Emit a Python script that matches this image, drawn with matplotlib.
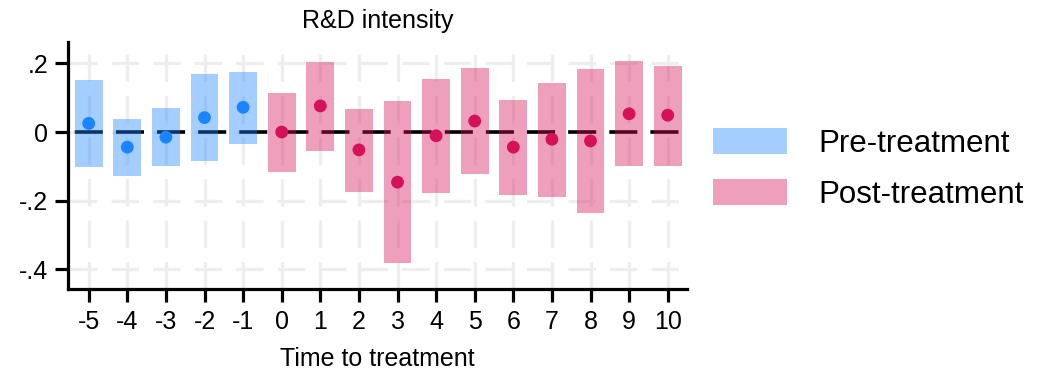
import matplotlib
matplotlib.use("Agg")
import matplotlib.pyplot as plt
from matplotlib.patches import Patch

# event-study estimates
times = [-5, -4, -3, -2, -1, 0, 1, 2, 3, 4, 5, 6, 7, 8, 9, 10]
coef = [0.025, -0.044, -0.015, 0.042, 0.072, 0.0, 0.076, -0.052,
        -0.146, -0.011, 0.032, -0.044, -0.021, -0.026, 0.053, 0.049]
ci_low = [-0.101, -0.127, -0.098, -0.083, -0.034, -0.115, -0.054, -0.174,
          -0.380, -0.177, -0.121, -0.182, -0.188, -0.235, -0.098, -0.098]
ci_high = [0.151, 0.037, 0.070, 0.169, 0.175, 0.114, 0.203, 0.067,
           0.090, 0.154, 0.186, 0.093, 0.143, 0.183, 0.207, 0.192]

yticks = [0.2, 0.0, -0.2, -0.4]
ytick_labels = [".2", "0", "-.2", "-.4"]

pre_color = "#1A85FF"
post_color = "#D41159"

plt.rcParams["font.family"] = ["Liberation Sans", "DejaVu Sans"]
plt.rcParams["lines.scale_dashes"] = False

fig = plt.figure(figsize=(10.55, 3.74), dpi=100)
ax = fig.add_axes([0.0647, 0.2281, 0.5865, 0.6596])

colors = [pre_color if t < 0 else post_color for t in times]
heights = [h - l for h, l in zip(ci_high, ci_low)]

ax.bar(times, heights, bottom=ci_low, width=0.72, color=colors,
       alpha=0.4, linewidth=0, zorder=3)
ax.axhline(0, color="black", lw=2.6, linestyle=(24.7, (20.2, 9.4)), zorder=2)
ax.scatter(times, coef, s=85, c=colors, linewidths=0, zorder=4)

ax.set_xlim(-5.53, 10.5)
ax.set_ylim(-0.456, 0.262)
ax.set_xticks(times)
ax.set_xticklabels([str(t) for t in times])
ax.set_yticks(yticks)
ax.set_yticklabels(ytick_labels)

ax.grid(axis="x", color="#eeeeee", lw=2.4, linestyle=(0, (19.7, 10.2)), zorder=0)
ax.grid(axis="y", color="#eeeeee", lw=2.4, linestyle=(28.7, (19.7, 10.2)), zorder=0)
ax.set_axisbelow(True)

for s in ["top", "right"]:
    ax.spines[s].set_visible(False)
for s in ["left", "bottom"]:
    ax.spines[s].set_linewidth(2.3)

ax.tick_params(axis="both", length=9.5, width=2.3, labelsize=18, color="black")
ax.tick_params(axis="x", pad=6)
ax.tick_params(axis="y", pad=5)

ax.set_title("R&D intensity", fontsize=18, pad=10)
ax.set_xlabel("Time to treatment", fontsize=18, labelpad=9)

handles = [Patch(facecolor=pre_color, alpha=0.4, linewidth=0),
           Patch(facecolor=post_color, alpha=0.4, linewidth=0)]
fig.legend(handles, ["Pre-treatment", "Post-treatment"], loc="center left",
           bbox_to_anchor=(713 / 1055, 0.548), frameon=False, fontsize=22.5,
           handlelength=2.37, handleheight=0.9, handletextpad=1.0,
           labelspacing=0.65, borderpad=0, borderaxespad=0)

fig.savefig("out.png", dpi=100)
